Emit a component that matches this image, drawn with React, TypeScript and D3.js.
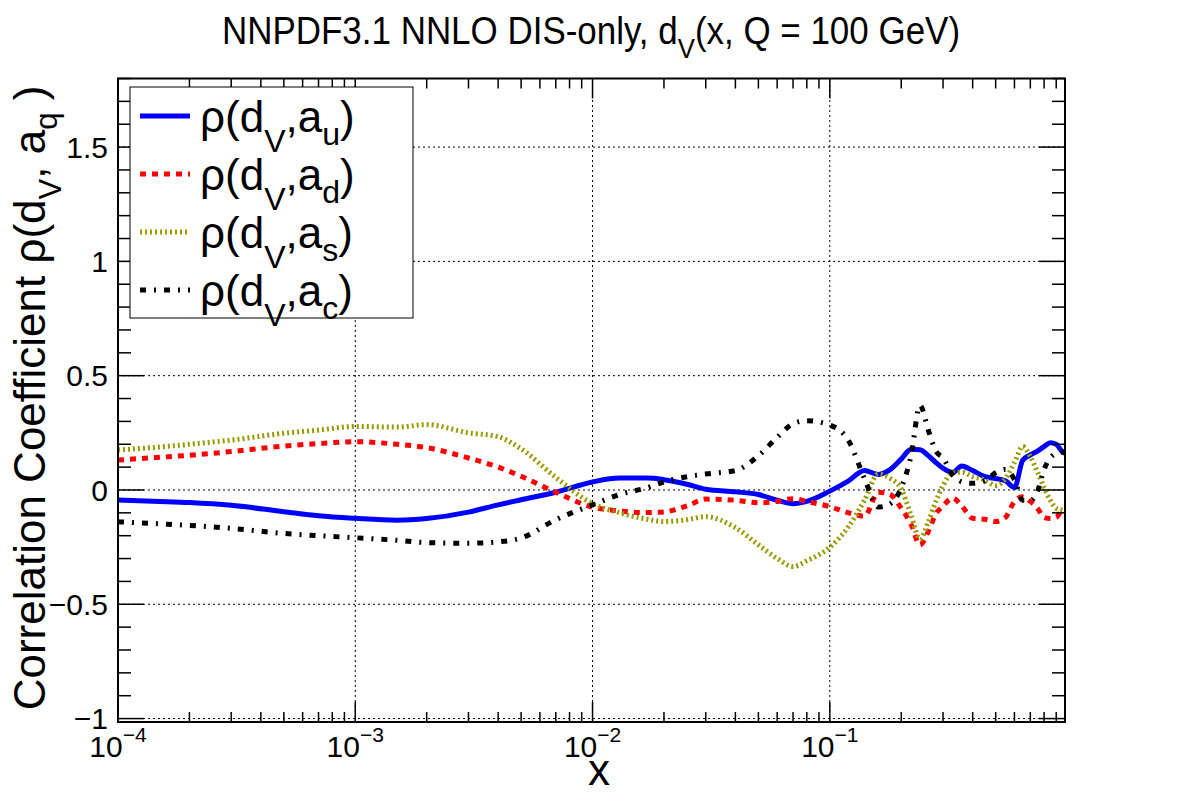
import React from "react";
import * as d3 from "d3";

// x grid shared by all four correlation curves
const xValues = [
  1e-4, 1.5e-4, 2e-4, 3e-4, 5e-4, 7e-4, 1e-3, 1.5e-3, 2e-3, 3e-3, 4e-3, 5e-3, 7e-3,
  0.01, 0.013, 0.017, 0.02, 0.025, 0.03, 0.04, 0.05, 0.06, 0.07, 0.08, 0.1, 0.12,
  0.14, 0.16, 0.18, 0.2, 0.22, 0.24, 0.26, 0.28, 0.3, 0.33, 0.36, 0.4, 0.45, 0.5,
  0.55, 0.6, 0.65, 0.7, 0.75, 0.8, 0.85, 0.9, 0.95, 0.98,
];

const rhoU = [
  -0.044, -0.05, -0.055, -0.067, -0.095, -0.113, -0.124, -0.132, -0.125, -0.097, -0.065, -0.043, -0.01,
  0.035, 0.052, 0.052, 0.045, 0.025, 0.003, -0.008, -0.02, -0.045, -0.06, -0.05, -0.005, 0.04,
  0.085, 0.068, 0.09, 0.135, 0.178, 0.176, 0.15, 0.12, 0.095, 0.076, 0.105, 0.085, 0.058, 0.05,
  0.04, 0.01, 0.13, 0.153, 0.17, 0.19, 0.207, 0.2, 0.17, 0.16,
];

const rhoD = [
  0.131, 0.143, 0.152, 0.168, 0.192, 0.203, 0.211, 0.2, 0.185, 0.14, 0.1, 0.06, -0.01,
  -0.075, -0.092, -0.099, -0.096, -0.07, -0.04, -0.045, -0.056, -0.05, -0.038, -0.05, -0.073, -0.1,
  -0.115, -0.01, -0.02, -0.08, -0.15, -0.24, -0.182, -0.105, -0.07, -0.035, -0.07, -0.124, -0.128, -0.138,
  -0.12, -0.05, -0.03, -0.05, -0.08, -0.12, -0.125, -0.12, -0.09, -0.085,
];

const rhoS = [
  0.175, 0.188, 0.2, 0.218, 0.248, 0.262, 0.278, 0.275, 0.286, 0.25, 0.233, 0.18, 0.055,
  -0.06, -0.1, -0.128, -0.138, -0.13, -0.117, -0.165, -0.24, -0.3, -0.335, -0.31, -0.25, -0.16,
  -0.045, 0.07, 0.05, 0.005, -0.11, -0.215, -0.14, -0.05, 0.02, 0.075, 0.078, 0.058, 0.044, 0.02,
  0.05, 0.12, 0.19, 0.145, 0.08, 0.01, -0.045, -0.08, -0.087, -0.088,
];

const rhoC = [
  -0.139, -0.148, -0.155, -0.168, -0.19, -0.2, -0.209, -0.22, -0.23, -0.233, -0.227, -0.21, -0.13,
  -0.065, -0.02, 0.01, 0.035, 0.058, 0.07, 0.085, 0.15, 0.23, 0.29, 0.303, 0.284, 0.215,
  0.05, -0.075, -0.06, 0.01, 0.15, 0.37, 0.262, 0.17, 0.14, 0.065, 0.036, 0.029, 0.04, 0.075,
  0.09, 0.045, -0.045, -0.045, -0.007, 0.09, 0.14, 0.16, 0.165, 0.165,
];

const quarkLabels = ["u", "d", "s", "c"];
const yTickValues = [-1, -0.5, 0, 0.5, 1, 1.5];
const xDecades = [1e-4, 1e-3, 1e-2, 1e-1];
const xDecadeExps = ["\u22124", "\u22123", "\u22122", "\u22121"];

const FONT = "Liberation Sans, Arial, Helvetica, sans-serif";

const x = d3.scaleLog().domain([1e-4, 0.98]).range([118, 1065]);
const y = d3.scaleLinear().domain([-1.015, 1.8]).range([722, 78.5]);

const series = [
  { values: rhoU, color: "#0000ff", dash: undefined },
  { values: rhoD, color: "#ff0000", dash: "6,6" },
  { values: rhoS, color: "#999900", dash: "2,3" },
  { values: rhoC, color: "#000000", dash: "6,8,2,8" },
];

export default function App() {
  const [x0, x1] = x.range();
  const [y0, y1] = y.range();

  const line = d3
    .line<number>()
    .x((_, i) => x(xValues[i]))
    .y((d) => y(d))
    .curve(d3.curveMonotoneX);

  // minor ticks on the log axis
  const xMinor: number[] = [];
  xDecades.forEach((dec) => {
    for (let k = 2; k <= 9; k++) {
      const v = dec * k;
      if (v < x.domain()[1]) xMinor.push(v);
    }
  });
  const yMinor = d3.range(-10, 19).map((i) => i / 10);

  return (
    <svg
      width={1182}
      height={800}
      style={{ position: "absolute", left: 0, top: 0, background: "#fff" }}
      fontFamily={FONT}
    >
      <defs>
        <clipPath id="plot">
          <rect x={x0} y={y1} width={x1 - x0} height={y0 - y1} />
        </clipPath>
      </defs>
      <rect width={1182} height={800} fill="#fff" />

      {/* grid */}
      <g stroke="#000" strokeWidth={1} strokeDasharray="2,3">
        {xDecades.slice(1).map((d) => (
          <line key={"gx" + d} x1={x(d)} x2={x(d)} y1={y0} y2={y1} />
        ))}
        {yTickValues.map((d) => (
          <line key={"gy" + d} x1={x0} x2={x1} y1={y(d)} y2={y(d)} />
        ))}
      </g>

      {/* curves */}
      <g clipPath="url(#plot)" fill="none">
        {series.map((s, i) => (
          <path
            key={i}
            d={line(s.values) || ""}
            stroke={s.color}
            strokeWidth={5}
            strokeDasharray={s.dash}
          />
        ))}
      </g>

      {/* ticks */}
      <g stroke="#000" strokeWidth={1.5}>
        {xDecades.map((d) => (
          <g key={"tx" + d}>
            <line x1={x(d)} x2={x(d)} y1={y0} y2={y0 - 20} />
            <line x1={x(d)} x2={x(d)} y1={y1} y2={y1 + 20} />
          </g>
        ))}
        {xMinor.map((d) => (
          <g key={"mx" + d}>
            <line x1={x(d)} x2={x(d)} y1={y0} y2={y0 - 10} />
            <line x1={x(d)} x2={x(d)} y1={y1} y2={y1 + 10} />
          </g>
        ))}
        {yMinor.map((d, i) => {
          const len = Math.round(d * 10) % 5 === 0 ? 26 : 13;
          return (
            <g key={"my" + i}>
              <line x1={x0} x2={x0 + len} y1={y(d)} y2={y(d)} />
              <line x1={x1} x2={x1 - len} y1={y(d)} y2={y(d)} />
            </g>
          );
        })}
      </g>

      {/* frame */}
      <rect x={x0} y={y1} width={x1 - x0} height={y0 - y1} fill="none" stroke="#000" strokeWidth={2} />

      {/* tick labels */}
      <g fontSize={30} fill="#000">
        {yTickValues.map((d) => (
          <text key={"ly" + d} x={x0 - 10} y={y(d)} dy="0.36em" textAnchor="end">
            {d < 0 ? "\u2212" + Math.abs(d) : String(d)}
          </text>
        ))}
        {xDecades.map((d, i) => (
          <text key={"lx" + d} x={x(d)} y={757} textAnchor="middle">
            10
            <tspan dy={-15} fontSize={21}>
              {xDecadeExps[i]}
            </tspan>
          </text>
        ))}
      </g>

      {/* titles */}
      <g transform="translate(591,0) scale(0.92,1)">
        <text x={0} y={44} textAnchor="middle" fontSize={38}>
          NNPDF3.1 NNLO DIS-only, d
          <tspan dy={14} fontSize={28}>V</tspan>
          <tspan dy={-14}>(x, Q = 100 GeV)</tspan>
        </text>
      </g>
      <text x={599} y={785} textAnchor="middle" fontSize={44}>
        x
      </text>
      <text transform="translate(45,398) rotate(-90)" textAnchor="middle" fontSize={44}>
        Correlation Coefficient ρ(d
        <tspan dy={16} fontSize={31}>V</tspan>
        <tspan dy={-16}>, a</tspan>
        <tspan dy={12} fontSize={31}>q</tspan>
        <tspan dy={-12}> )</tspan>
      </text>

      {/* legend */}
      <rect x={130} y={87} width={283} height={231} fill="#fff" stroke="#000" strokeWidth={1} />
      {series.map((s, i) => {
        const cy = 116 + i * 58;
        return (
          <g key={"lg" + i}>
            <line x1={140} x2={190} y1={cy} y2={cy} stroke={s.color} strokeWidth={5} strokeDasharray={s.dash} />
            <text x={200} y={cy + 16} fontSize={44}>
              ρ(d
              <tspan dy={20} fontSize={32}>V</tspan>
              <tspan dy={-20}>,a</tspan>
              <tspan dy={13} fontSize={32}>{quarkLabels[i]}</tspan>
              <tspan dy={-13}>)</tspan>
            </text>
          </g>
        );
      })}
    </svg>
  );
}
